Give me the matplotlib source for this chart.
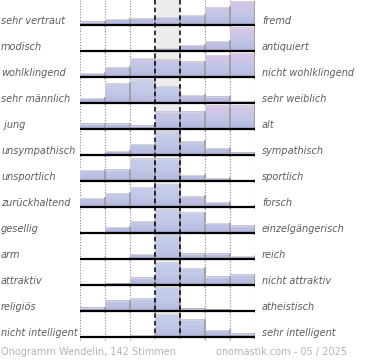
import numpy as np
import matplotlib
matplotlib.use('Agg')
import matplotlib.pyplot as plt
from matplotlib.colors import LinearSegmentedColormap
from matplotlib.transforms import blended_transform_factory

left_labels = ['sehr vertraut', 'modisch', 'wohlklingend', 'sehr männlich', ' jung',
               'unsympathisch', 'unsportlich', 'zurückhaltend', 'gesellig', 'arm',
               'attraktiv', 'religiös', 'nicht intelligent']
right_labels = ['fremd', 'antiquiert', 'nicht wohlklingend', 'sehr weiblich', 'alt',
                'sympathisch', 'sportlich', 'forsch', 'einzelgängerisch', 'reich',
                'nicht attraktiv', 'atheistisch', 'sehr intelligent']

# bar heights per row, 7 bins, scaled so the tallest bar of a row is ~25
heights = [
    [4.5, 6.7, 7.7, 9.0, 10.7, 19.0, 24.5],
    [2.0, 0.0, 0.0, 3.7, 6.7, 10.7, 24.3],
    [5.0, 11.0, 20.0, 19.0, 16.3, 23.0, 24.7],
    [6.0, 21.0, 24.3, 17.7, 9.0, 7.3, 2.7],
    [6.0, 6.0, 4.0, 18.0, 18.0, 24.0, 24.0],
    [1.7, 4.7, 12.0, 24.0, 15.0, 7.7, 3.3],
    [11.7, 12.3, 23.0, 23.0, 6.7, 3.7, 1.0],
    [10.0, 15.0, 21.0, 24.0, 11.7, 5.7, 1.7],
    [0.0, 6.7, 13.0, 25.0, 21.0, 10.7, 8.3],
    [2.0, 2.0, 5.7, 25.0, 6.3, 6.3, 3.7],
    [1.3, 2.3, 8.0, 24.0, 18.0, 9.0, 11.3],
    [4.3, 11.3, 13.3, 25.0, 3.3, 2.3, 1.3],
    [0.0, 0.0, 3.0, 24.0, 18.3, 7.7, 4.3],
]
pink_rows = [0, 1, 2, 4]

footer_left = 'Onogramm Wendelin, 142 Stimmen'
footer_right = 'onomastik.com - 05 / 2025'

W, H = 370, 360
row_px = 26.0
n_rows = len(heights)
ymax = n_rows + 0.15

fig = plt.figure(figsize=(W / 100, H / 100), dpi=100)
ax = fig.add_axes([80 / W, 1 - ymax * row_px / H, 175 / W, ymax * row_px / H])
ax.set_xlim(0, 7)
ax.set_ylim(ymax, 0)
ax.axis('off')

cmap_pink = LinearSegmentedColormap.from_list(
    'pink', [(0, '#9c92c6'), (0.12, '#b8bbe0'), (0.45, '#c2c6e7'), (1, '#dec4e8')])
cmap_blue = LinearSegmentedColormap.from_list(
    'blue', [(0, '#9c92c6'), (0.12, '#b8bbe0'), (0.45, '#c2c8e8'), (1, '#c8d0ec')])

# centre column background
ax.fill_between([3, 4], 0, n_rows, color='#ececec', zorder=0, linewidth=0)

for x in [0, 1, 2, 5, 6, 7]:
    ax.plot([x, x], [0, ymax], color='#8a8a8a', linestyle=(0, (1, 1.5)),
            linewidth=0.8, zorder=1)

for i, row in enumerate(heights):
    base = i + 1
    cmap = cmap_pink if i in pink_rows else cmap_blue
    for j, h in enumerate(row):
        if h <= 0:
            continue
        frac = h / row_px
        grad = np.linspace(frac, 0, 60).reshape(-1, 1)
        ax.imshow(grad, cmap=cmap, vmin=0, vmax=1, aspect='auto',
                  extent=[j, j + 1, base, base - frac], origin='upper',
                  interpolation='bilinear', zorder=2)
        ax.plot([j, j + 1], [base - frac, base - frac], color='#d6d6d6',
                linewidth=0.7, zorder=3)
        ax.plot([j + 1, j + 1], [base, base - frac], color='#9a9a9a',
                linewidth=1.2, zorder=3)
    ax.plot([0, 7], [base - 0.02, base - 0.02], color='black', linewidth=1.6,
            zorder=4, solid_capstyle='butt')

for x in [3, 4]:
    ax.plot([x, x], [0, n_rows], color='black', linestyle=(0, (3, 2)),
            linewidth=1.1, zorder=5)

trans = blended_transform_factory(fig.transFigure, ax.transData)
for i in range(n_rows):
    y = i + 1 - 5.5 / row_px
    ax.text(1 / W, y, left_labels[i], transform=trans, ha='left', va='center',
            fontsize=7, style='italic', color='#5c5c5c')
    ax.text(262 / W, y, right_labels[i], transform=trans, ha='left', va='center',
            fontsize=7, style='italic', color='#5c5c5c')

fig.text(1 / W, 1 - 352 / H, footer_left, ha='left', va='center', fontsize=7,
         color='#b4b4b4')
fig.text(347 / W, 1 - 352 / H, footer_right, ha='right', va='center', fontsize=7,
         color='#b4b4b4')

fig.savefig('out.png', dpi=100)
